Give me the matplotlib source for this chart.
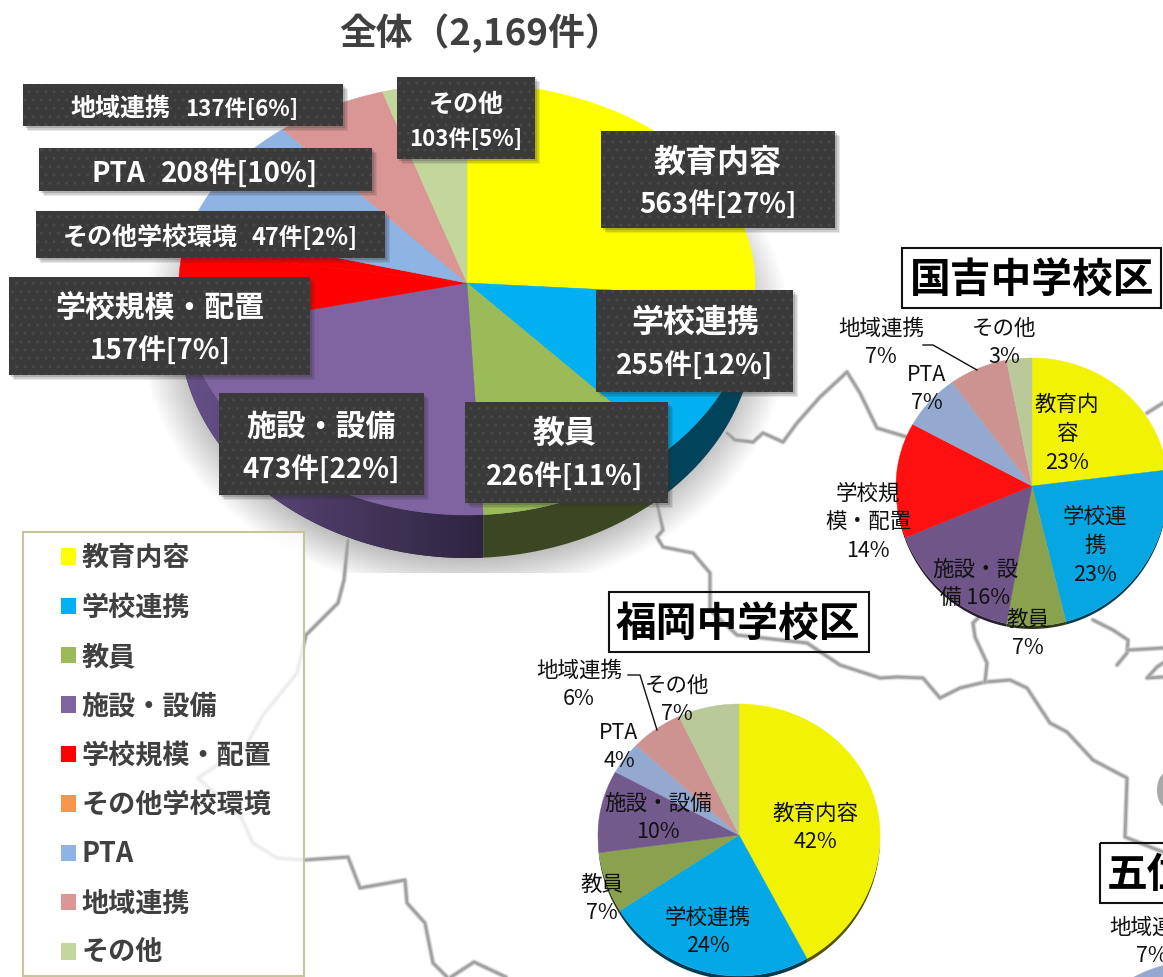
import numpy as np
import matplotlib
matplotlib.use("Agg")
import matplotlib.pyplot as plt
from matplotlib.patches import Polygon, Rectangle, Patch, Ellipse

FONT = ['Noto Sans CJK JP', 'DejaVu Sans']
plt.rcParams['font.family'] = FONT
plt.rcParams['hatch.linewidth'] = 1.0

# ---------- data ----------
categories = ['教育内容', '学校連携', '教員', '施設・設備', '学校規模・配置',
              'その他学校環境', 'PTA', '地域連携', 'その他']
legend_colors = ['#FFFF00', '#00B0F0', '#9BBB59', '#8064A2', '#FF0000',
                 '#F79646', '#8EB4E3', '#D99694', '#C3D69B']
# the その他学校環境 slice is painted in red in the reference
total_colors = ['#FFFF00', '#00B0F0', '#9BBB59', '#8064A2', '#FF0000',
                '#FF0000', '#8EB4E3', '#D99694', '#C3D69B']
total_counts = [563, 255, 226, 473, 157, 47, 208, 137, 103]
total_pct = [27, 12, 11, 22, 7, 2, 10, 6, 5]

kuniyoshi_values = [23, 23, 7, 16, 14, 7, 7, 3]
kuniyoshi_colors = ['#F2F205', '#05A6E2', '#8AA24E', '#6F5588', '#FF1010',
                    '#93A9CF', '#CD9391', '#B9C99A']
fukuoka_values = [42, 24, 7, 10, 4, 6, 7]
fukuoka_colors = ['#F2F205', '#05A8E6', '#8AA24E', '#735A8C', '#93A9CF',
                  '#CD9391', '#B9C99A']
# only the tip of this pie is inside the picture
goi_values = [89, 7, 4]
goi_colors = ['#FFFFFF', '#93A9CF', '#CD9391']

# ---------- figure in pixel coordinates ----------
W, H = 1163, 977
fig = plt.figure(figsize=(W / 100, H / 100), dpi=100, facecolor='white')
ax = fig.add_axes([0, 0, 1, 1])


def darker(c, f):
    return tuple(v * f for v in matplotlib.colors.to_rgb(c))


def pie_pieces(values, colors, cx, cy, rx, rtop, rbot, warp=None, depth=0,
               wall=0.45, z=5):
    """Slices come from ax.pie; they are then laid out on the tilted disc."""
    wedges = ax.pie(values, colors=colors, startangle=90, counterclock=False)[0]
    spans = [(90 - w.theta2, 90 - w.theta1) for w in wedges]
    for w in wedges:
        w.remove()
    spans = [(a % 360 if a < 0 else a, b % 360 if b < 0 else b) for a, b in spans]

    def rim(a):
        a = np.asarray(a, float)
        if warp is not None:
            a = np.interp(a, warp[0], warp[1])
        r = np.radians(a)
        s, c = np.sin(r), np.cos(r)
        return cx + rx * s, cy - np.where(c > 0, rtop, rbot) * c

    walls = []
    for (a0, a1), col in zip(spans, colors):
        if a1 <= a0:
            a1 += 360
        if depth:
            lo, hi = max(a0, 90), min(a1, 270)
            if hi > lo:
                xs, ys = rim(np.linspace(lo, hi, 60))
                pts = np.r_[np.c_[xs, ys], np.c_[xs, ys + depth][::-1]]
                p = Polygon(pts, closed=True, fc=darker(col, wall), ec='none', zorder=z)
                ax.add_patch(p)
                walls.append(p)
            else:
                walls.append(None)
        else:
            walls.append(None)
    for (a0, a1), col in zip(spans, colors):
        if a1 <= a0:
            a1 += 360
        xs, ys = rim(np.linspace(a0, a1, 120))
        pts = np.r_[[[cx, cy]], np.c_[xs, ys]]
        ax.add_patch(Polygon(pts, closed=True, fc=col, ec=col, lw=0.3, zorder=z + 1))
    return walls


# ---------- soft shadow under the large pie ----------
yy, xx = np.mgrid[230:573, 130:800]
d = np.sqrt(((xx - 465) / 325.0) ** 2 + ((yy - 330) / 265.0) ** 2)
alpha = np.clip((1.0 - d) / 0.16, 0, 1) * 0.30
sh = np.zeros(d.shape + (4,))
sh[..., 3] = alpha
ax.imshow(sh, extent=(130, 800, 573, 230), zorder=1, aspect='auto', interpolation='bilinear')

# ---------- background map lines ----------
map_lines = [
    [(348, 540), (344, 580), (338, 603), (306, 635), (297, 673), (263, 715), (245, 747),
     (198, 778), (241, 817), (253, 843), (277, 858), (304, 860), (348, 857), (360, 888),
     (405, 880), (407, 903), (425, 923), (433, 963), (447, 977)],
    [(451, 977), (474, 962), (506, 977)],
    [(727, 433), (735, 440), (753, 442), (763, 433), (783, 442), (797, 423), (820, 397),
     (847, 372), (860, 393), (877, 428), (907, 437)],
    [(657, 503), (663, 530), (657, 537), (663, 547), (693, 553), (710, 573), (710, 610),
     (737, 635), (807, 643), (840, 665), (880, 678), (897, 677), (923, 678), (940, 698),
     (960, 688), (985, 682), (1010, 680), (1027, 688), (1050, 723), (1067, 732),
     (1093, 760), (1127, 778), (1125, 837), (1163, 852)],
    [(985, 682), (987, 663), (975, 637), (973, 623), (978, 618)],
    [(1093, 620), (1113, 630), (1128, 640), (1127, 653), (1117, 665)],
    [(1128, 650), (1163, 648)],
    [(1163, 677), (1147, 678), (1157, 667), (1163, 663)],
    [(1147, 413), (1163, 403)],
]
for line in map_lines:
    arr = np.array(line, float)
    for lw, col, al in ((4.4, '#d0d0d0', 0.35), (3.2, '#b8b8b8', 0.55), (1.9, '#a2a2a2', 1.0)):
        ax.plot(arr[:, 0], arr[:, 1], color=col, lw=lw, alpha=al, zorder=2,
                solid_joinstyle='round', solid_capstyle='round')
ax.add_patch(Ellipse((1166, 790), 18, 34, fc='#a8a8a8', ec='none', zorder=2))

# ---------- large pie ----------
warp_total = ([0, 135.8, 173.3, 251.8, 285.6, 360], [0, 135.8, 176.8, 258, 285.6, 360])
walls = pie_pieces(total_counts, total_colors, 467, 283, 288, 200, 232, warp=warp_total,
                   depth=43, wall=0.38, z=5)
# horizontal light falloff on the purple wall
grad = np.linspace(0, 1, 256).reshape(1, -1)
cmap = matplotlib.colors.LinearSegmentedColormap.from_list('wall', ['#665289', '#4a3a62', '#2e2440'])
gi = ax.imshow(grad, extent=(178, 483, 560, 300), cmap=cmap, zorder=5.5, aspect='auto')
gi.set_clip_path(walls[3])

# ---------- district pies ----------
pie_pieces(kuniyoshi_values, kuniyoshi_colors, 1032, 486, 136, 128, 140, depth=3, wall=0.35, z=5)
pie_pieces(fukuoka_values, fukuoka_colors, 739, 835, 141, 131, 141, depth=4, wall=0.35, z=5)
pie_pieces(goi_values, goi_colors, 1198, 1097, 136, 136, 136, z=5)

# ---------- title ----------
ax.text(481, 33, '全体（2,169件）', fontsize=26.5, fontweight='bold', color='#404040',
        ha='center', va='center', zorder=20)


# ---------- dark data labels of the large pie ----------
def dark_box(x0, y0, x1, y1):
    for i, a in zip((5, 3.5, 2), (0.10, 0.14, 0.2)):
        ax.add_patch(Rectangle((x0 + i, y0 + i), x1 - x0, y1 - y0, fc='#303030', ec='none',
                               alpha=a, zorder=9))
    ax.add_patch(Rectangle((x0, y0), x1 - x0, y1 - y0, fc='#3A3A3A', ec='#484848', lw=0,
                           hatch='..', zorder=10))


def white(x, y, s, size):
    ax.text(x, y + 3, s, color='white', fontsize=size, fontweight='bold', ha='center',
            va='center', zorder=11)


label_boxes = [(601, 131, 835, 228), (596, 290, 793, 392), (465, 402, 668, 503),
               (219, 393, 424, 495), (9, 277, 310, 375), (36, 211, 385, 258),
               (39, 148, 372, 191), (23, 84, 343, 126), (397, 77, 535, 159)]
for b in label_boxes:
    dark_box(*b)

count_text = [f'{c}件[{p}%]' for c, p in zip(total_counts, total_pct)]
white(718, 160, categories[0], 23)
white(718, 202, count_text[0], 20)
white(695, 320, categories[1], 23)
white(695, 363, count_text[1], 20)
white(565, 431, categories[2], 23)
white(565, 474, count_text[2], 20)
white(321, 424, categories[3], 21.5)
white(321, 467, count_text[3], 20)
white(160, 306, categories[4], 21.5)
white(160, 348, count_text[4], 20)
white(150, 235, categories[5], 18)
white(305, 235, count_text[5], 17)
white(118, 171, categories[6], 20)
white(240, 171, count_text[6], 20)
white(120, 106, categories[7], 18)
white(242, 106, count_text[7], 16)
white(466, 102, categories[8], 18)
white(466, 136, count_text[8], 16)


# ---------- district titles ----------
def district(x0, y0, x1, y1, s, tx):
    ax.add_patch(Rectangle((x0, y0), x1 - x0, y1 - y0, fc='none', ec='#111111', lw=1.5, zorder=8))
    ax.text(tx, (y0 + y1) / 2 + 2, s, fontsize=29.3, fontweight='bold', color='black',
            ha='left', va='center', zorder=9)


district(902, 248, 1161, 308, '国吉中学校区', 910)
district(609, 592, 869, 652, '福岡中学校区', 616)
district(1100, 843, 1190, 903, '五位中学校区', 1107)


# ---------- district labels ----------
def small(x, y, s):
    ax.text(x, y, s, fontsize=15.5, color='#111111', ha='center', va='center', zorder=12,
            linespacing=1.4)


for x, y, s in [
    (1067, 434, '教育内\n容\n23%'), (1095, 546, '学校連\n携\n23%'), (1028, 634, '教員\n7%'),
    (975, 584, '施設・設\n備 16%'), (868, 522, '学校規\n模・配置\n14%'), (927, 389, 'PTA\n7%'),
    (881, 343, '地域連携\n7%'), (1004, 343, 'その他\n3%'),
    (816, 828, '教育内容\n42%'), (708, 932, '学校連携\n24%'), (602, 899, '教員\n7%'),
    (658, 818, '施設・設備\n10%'), (619, 747, 'PTA\n4%'), (579, 685, '地域連携\n6%'),
    (677, 700, 'その他\n7%'), (1152, 942, '地域連携\n7%'),
]:
    small(x, y, s)

ax.plot([923, 933, 977], [345, 345, 370], color='#111111', lw=1, zorder=12)
ax.plot([628, 640, 657], [675, 675, 730], color='#111111', lw=1, zorder=12)

# ---------- legend ----------
ax.add_patch(Rectangle((23, 532), 281, 444, fc='white', alpha=0.82, ec='none', zorder=3))
ax.add_patch(Rectangle((23, 532), 281, 444, fc='none', ec='#C9C39D', lw=1.5, zorder=3.5))
handles = [Patch(fc=c, ec='none', label=n) for c, n in zip(legend_colors, categories)]
leg = ax.legend(handles=handles, loc='upper left', bbox_to_anchor=(61 / W, 1 - 544 / H),
                bbox_transform=fig.transFigure, frameon=False, borderpad=0, borderaxespad=0,
                handlelength=0.55, handleheight=0.55, handletextpad=0.22,
                labelspacing=0.79, prop={'weight': 'bold', 'size': 19.5, 'family': FONT})
for t in leg.get_texts():
    t.set_color('#404040')
leg.set_zorder(4)

ax.set_xlim(0, W)
ax.set_ylim(H, 0)
ax.set_aspect('auto')
ax.axis('off')
fig.savefig('out.png', dpi=100, facecolor='white')
